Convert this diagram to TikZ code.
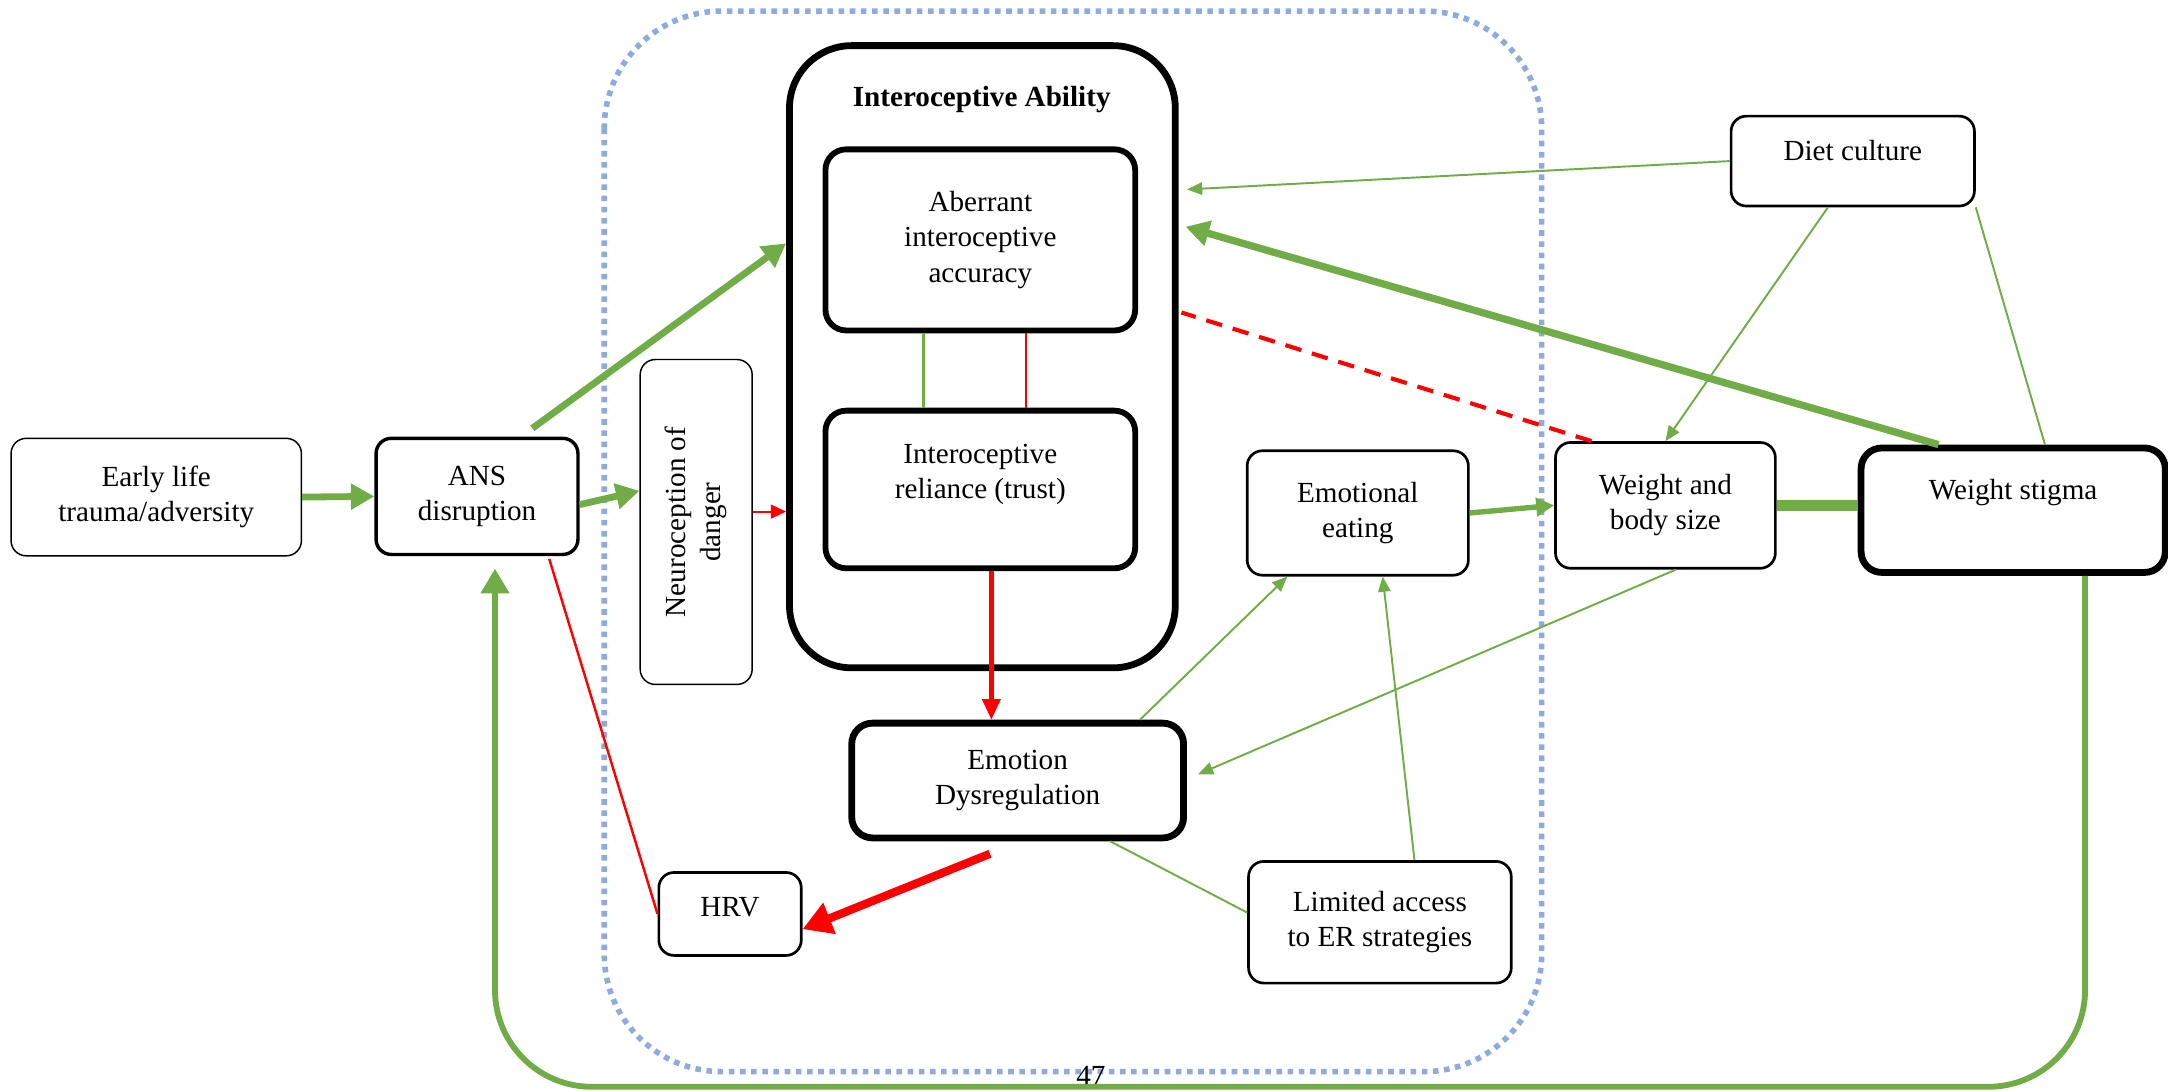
\documentclass[tikz,border=0pt]{standalone}
\usepackage{fontspec}
\setmainfont{Liberation Serif}
\usetikzlibrary{arrows.meta}
\definecolor{linkgreen}{HTML}{70AD47}
\definecolor{linkred}{HTML}{FF0000}
\definecolor{dotblue}{HTML}{8FAADC}

\begin{document}
\begin{tikzpicture}[
	font=\fontsize{12}{14.5}\selectfont,
	boxthin/.style={draw,rounded corners=0.22cm,line width=0.6pt,align=center,inner sep=2pt},
	boxmid/.style={boxthin,line width=1.1pt},
	boxbold/.style={boxthin,line width=2.4pt,rounded corners=0.3cm},
	gthick/.style={draw=linkgreen,line width=2.8pt,-{Triangle[length=0.34cm,width=0.36cm]}},
	gmid/.style={draw=linkgreen,line width=2.2pt,-{Triangle[length=0.26cm,width=0.26cm]}},
	gthin/.style={draw=linkgreen,line width=0.8pt,-{Triangle[length=0.22cm,width=0.18cm]}},
	gline/.style={draw=linkgreen,line width=0.8pt}
]
	\useasboundingbox (0,0) rectangle (31.36,-15.78);
	\draw[dotblue,line width=2.3pt,dash pattern=on 2.3pt off 2.3pt,rounded corners=1.7cm] (8.74,-0.16) rectangle (22.3,-15.5);

	\node[boxthin,minimum width=4.2cm,minimum height=1.7cm] (early) at (2.26,-7.19) {Early life\\trauma/adversity};
	\node[boxmid,line width=1.4pt,minimum width=2.92cm,minimum height=1.68cm] (ans) at (6.9,-7.18) {ANS\\disruption};
	\node[boxthin,rotate=90,minimum width=4.7cm,minimum height=1.62cm] (neuro) at (10.07,-7.55) {Neuroception of\\danger};
	\node[boxbold,line width=2.8pt,rounded corners=0.9cm,minimum width=5.58cm,minimum height=9cm] (ability) at (14.21,-5.16) {};
	\node[font=\fontsize{12}{14.5}\selectfont\bfseries] (abilitytitle) at (14.2,-1.44) {Interoceptive Ability};
	\node[boxbold,minimum width=4.48cm,minimum height=2.62cm] (aberrant) at (14.18,-3.47) {Aberrant\\interoceptive\\accuracy};
	\node[boxbold,minimum width=4.48cm,minimum height=2.28cm,text depth=0.53cm] (reliance) at (14.18,-7.08) {Interoceptive\\reliance (trust)};
	\node[boxbold,line width=2.8pt,minimum width=4.8cm,minimum height=1.66cm] (emodys) at (14.72,-11.29) {Emotion\\Dysregulation};
	\node[boxmid,minimum width=2.06cm,minimum height=1.2cm,text depth=0.21cm] (hrv) at (10.56,-13.22) {HRV};
	\node[boxmid,minimum width=3.8cm,minimum height=1.76cm] (limited) at (19.96,-13.34) {Limited access\\to ER strategies};
	\node[boxmid,minimum width=3.2cm,minimum height=1.8cm] (emoeat) at (19.64,-7.42) {Emotional\\eating};
	\node[boxmid,minimum width=3.18cm,minimum height=1.82cm] (weight) at (24.09,-7.31) {Weight and\\body size};
	\node[boxbold,line width=2.8pt,minimum width=4.4cm,minimum height=1.8cm,text depth=0.6cm] (stigma) at (29.12,-7.38) {Weight stigma};
	\node[boxmid,minimum width=3.52cm,minimum height=1.3cm,text depth=0.31cm] (diet) at (26.8,-2.33) {Diet culture};
	\node[inner sep=0pt,anchor=north] (pagenum) at (15.78,-15.42) {47};

	\draw[gthick] (early.east) -- (ans.west);
	\draw[gthick] ([yshift=-0.12cm]ans.east) -- ([yshift=0.45cm]neuro.north);
	\draw[gthick] ([xshift=0.8cm,yshift=0.12cm]ans.north) -- ([yshift=1.64cm]ability.west);
	\draw[linkred,line width=0.8pt,-{Triangle[length=0.22cm,width=0.2cm]}] ([yshift=0.15cm]neuro.south) -- ([yshift=0.15cm]neuro.south -| ability.west);
	\draw[linkgreen,line width=1pt] ([xshift=-0.82cm]aberrant.south) -- ([xshift=-0.82cm]reliance.north);
	\draw[linkred,line width=1pt] ([xshift=0.66cm]aberrant.south) -- ([xshift=0.66cm]reliance.north);
	\draw[linkred,line width=1.8pt,-{Triangle[length=0.3cm,width=0.26cm]}] ([xshift=0.16cm]reliance.south) -- ([xshift=0.16cm]reliance.south |- emodys.north);
	\draw[linkred,line width=3.4pt,-{Triangle[length=0.42cm,width=0.46cm]}] ([xshift=-0.4cm,yshift=-0.18cm]emodys.south) -- ([yshift=-0.22cm]hrv.east);
	\draw[linkred,line width=1pt] ([xshift=-0.44cm,yshift=-0.04cm]ans.south east) -- (hrv.west);
	\draw[gthin] ([xshift=-0.68cm]emodys.north east) -- ([xshift=0.6cm]emoeat.south west);
	\draw[gthin] ([xshift=0.5cm]limited.north) -- ([xshift=0.36cm]emoeat.south);
	\draw[gline] ([yshift=0.14cm]limited.west) -- ([xshift=1.34cm]emodys.south);
	\draw[gthin] ([xshift=0.15cm]weight.south) -- ([xshift=0.16cm,yshift=0.09cm]emodys.east);
	\draw[gmid] (emoeat.east) -- (weight.west);
	\draw[linkgreen,line width=4.6pt] (weight.east) -- (weight.east -| stigma.west);
	\draw[gthick,line width=3pt] ([xshift=-1.08cm]stigma.north) -- ([xshift=0.1cm,yshift=1.88cm]ability.east);
	\draw[gthin] (diet.west) -- ([xshift=0.12cm,yshift=2.42cm]ability.east);
	\draw[gthin] ([xshift=-0.36cm]diet.south) -- (weight.north);
	\draw[gline] (diet.south east) -- ([xshift=0.46cm]stigma.north);
	\draw[linkred,line width=1.7pt,dash pattern=on 0.24cm off 0.16cm] ([xshift=0.54cm]weight.north west) -- ([xshift=0.04cm,yshift=0.64cm]ability.east);
	\coordinate (loopbot) at (15,-15.72);
	\draw[linkgreen,line width=2.4pt,rounded corners=1.4cm,-{Triangle[length=0.36cm,width=0.4cm]}] ([xshift=1.04cm]stigma.south) |- (loopbot) -| ([xshift=0.26cm,yshift=-0.18cm]ans.south);
\end{tikzpicture}
\end{document}
